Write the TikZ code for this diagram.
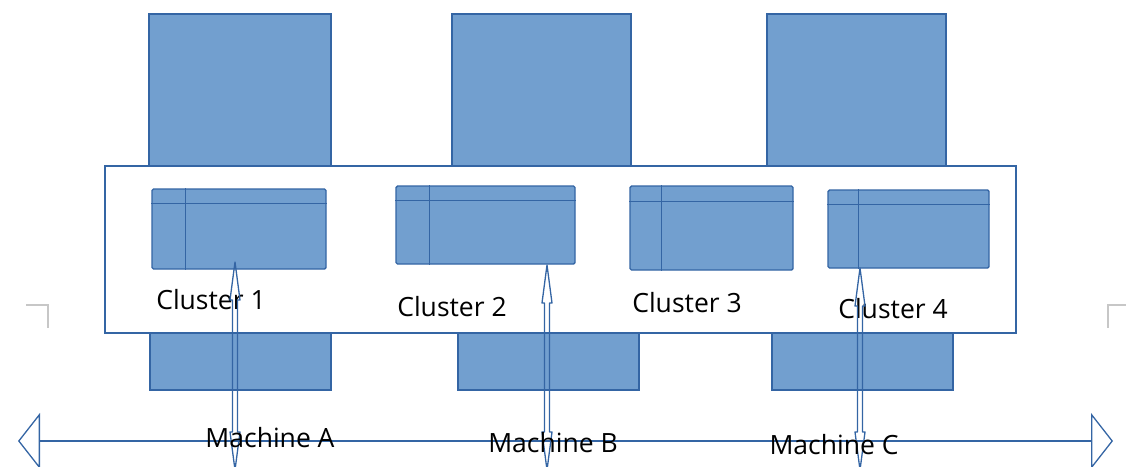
\documentclass[tikz,border=0pt]{standalone}
\usepackage{fontspec}
\setmainfont{Open Sans}
\usetikzlibrary{arrows.meta}
\definecolor{fillblue}{RGB}{114,159,207}
\definecolor{lineblue}{RGB}{52,101,164}
\tikzstyle{machinebox}=[draw=lineblue,fill=fillblue,line width=1.4pt,inner sep=0pt]
\tikzstyle{clusterbox}=[machinebox,rounded corners=1.5pt]
\tikzstyle{outerbox}=[draw=lineblue,fill=white,line width=1.4pt,inner sep=0pt]
\tikzstyle{textlabel}=[font=\fontsize{26.5}{30}\selectfont,text=black,inner sep=0pt]
\tikzstyle{link}=[draw=lineblue,line width=1.3pt,line join=round]
\tikzstyle{cropmark}=[draw=black!22,line width=2pt]

\begin{document}
\begin{tikzpicture}[x=1pt,y=-1pt]
	\useasboundingbox (0,0) rectangle (1126,466);
	% First we draw the machines, top and bottom halves
	\foreach \pos/\name/\w in {{(240,90)/topA/182}, {(541.5,90)/topB/179}, {(856.5,90)/topC/179}}
	\node[machinebox,minimum width=\w pt,minimum height=152pt] (\name) at \pos {};
	\node[outerbox,minimum width=911pt,minimum height=167pt] (hub) at (560.5,249.5) {};
	\foreach \pos/\name in {{(240.5,361.5)/botA}, {(548.5,361.5)/botB}, {(862.5,361.5)/botC}}
	\node[machinebox,minimum width=181pt,minimum height=57pt] (\name) at \pos {};

	% Cluster tables with header row and key column
	\foreach \pos/\name/\w/\h/\col/\row in {{(239,229)/c1/174/80/34/15}, {(485.5,225)/c2/179/78/34/15}, {(711.5,228)/c3/163/84/32/16}, {(908.5,229)/c4/161/78/31/15}}
	{
		\node[clusterbox,minimum width=\w pt,minimum height=\h pt] (\name) at \pos {};
		\draw[lineblue,line width=1.4pt] ([xshift=\col pt]\name.north west) -- ([xshift=\col pt]\name.south west);
		\draw[lineblue,line width=1.4pt] ([yshift=-\row pt]\name.north west) -- ([yshift=-\row pt]\name.north east);
	}
	\foreach \pos/\name/\txt in {{(211,300)/l1/Cluster 1}, {(452,307)/l2/Cluster 2}, {(687,303)/l3/Cluster 3}, {(893,309)/l4/Cluster 4}}
	\node[textlabel] (\name) at \pos {\txt};

	% Links between clusters and the machine line
	\foreach \i/\x/\y in {1/235/262, 2/547/265, 3/860/268}
	{
		\coordinate (up\i) at (\x,\y);
		\coordinate (down\i) at (\x,470);
		\path[link] (up\i) -- ([shift={(5,38)}]up\i) -- ([shift={(2.5,38)}]up\i) -- ([shift={(2.5,-38)}]down\i) -- ([shift={(5,-38)}]down\i) -- (down\i) -- ([shift={(-5,-38)}]down\i) -- ([shift={(-2.5,-38)}]down\i) -- ([shift={(-2.5,38)}]up\i) -- ([shift={(-5,38)}]up\i) -- cycle;
	}
	\coordinate (west) at (18,441);
	\coordinate (east) at (1113,441);
	\path[link,{Triangle[open,length=22pt,width=56pt]}-{Triangle[open,length=22pt,width=56pt]}] (west) -- (east);
	\foreach \pos/\name/\txt in {{(270,438)/mA/Machine A}, {(553,443)/mB/Machine B}, {(834,445)/mC/Machine C}}
	\node[textlabel] (\name) at \pos {\txt};

	% Crop marks
	\draw[cropmark] (26,305) -- (48,305) -- (48,328);
	\draw[cropmark] (1126,305) -- (1108,305) -- (1108,328);
\end{tikzpicture}
\end{document}
